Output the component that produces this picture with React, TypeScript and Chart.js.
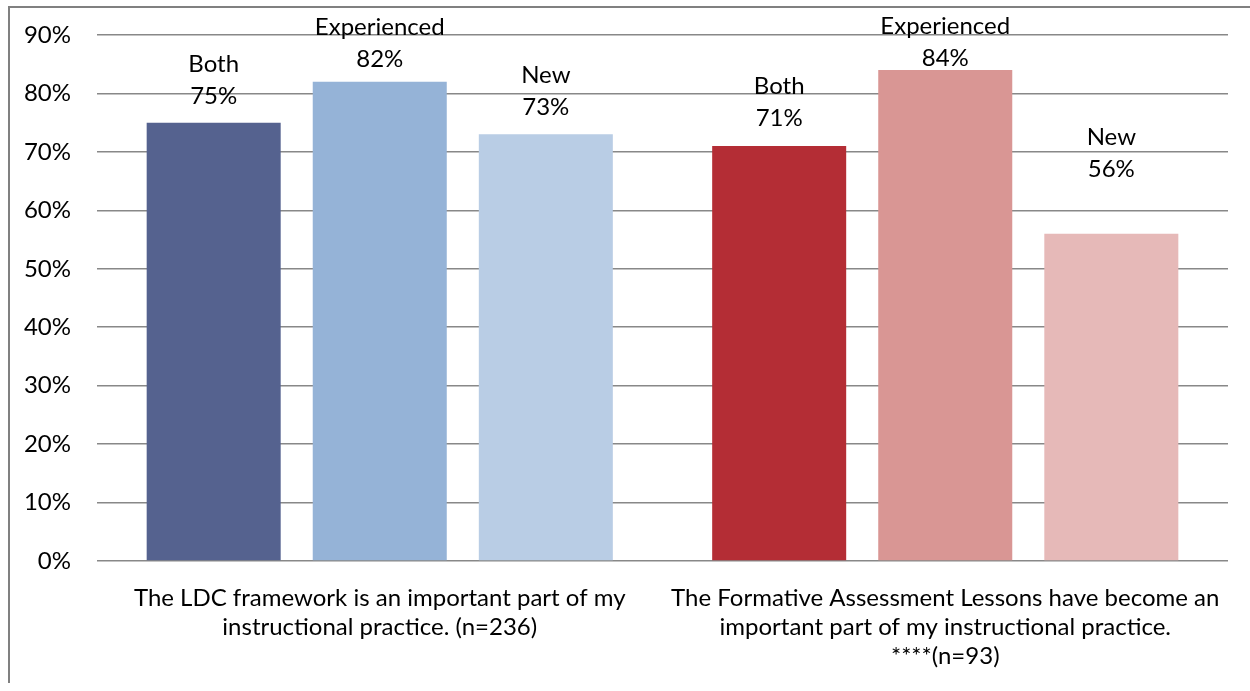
import React, { useEffect, useRef } from "react";
import { Chart, registerables } from "chart.js";

Chart.register(...registerables);

const categories: string[][] = [
  ["The LDC framework is an important part of my", "instructional practice. (n=236)"],
  ["The Formative Assessment Lessons have become an", "important part of my instructional practice.", "****(n=93)"],
];
const seriesNames = ["Both", "Experienced", "New"];
const bothValues = [75, 71];
const experiencedValues = [82, 84];
const newValues = [73, 56];
const yTicks = [0, 10, 20, 30, 40, 50, 60, 70, 80, 90];

// styling / label placement (kept apart from data)
const seriesColors = [
  ["#55628F", "#B42D35"],
  ["#95B3D7", "#D99694"],
  ["#B9CDE5", "#E6B9B8"],
];
const labelLift = [
  [26.5, 28],
  [22.5, 11.7],
  [27.3, 64],
];

const FONT = "Lato";

const labelPlugin = {
  id: "barLabels",
  afterDatasetsDraw(chart: any) {
    const ctx = chart.ctx;
    ctx.save();
    ctx.font = `24px ${FONT}`;
    ctx.fillStyle = "#000";
    ctx.textAlign = "center";
    ctx.textBaseline = "middle";
    chart.data.datasets.forEach((ds: any, di: number) => {
      const meta = chart.getDatasetMeta(di);
      meta.data.forEach((el: any, i: number) => {
        const v = ds.data[i];
        const yVal = el.y - labelLift[di][i];
        ctx.fillText(`${v}%`, el.x, yVal);
        ctx.fillText(ds.label, el.x, yVal - 32);
      });
    });
    ctx.restore();
  },
};

export default function App() {
  const ref = useRef<HTMLCanvasElement | null>(null);
  useEffect(() => {
    if (!ref.current) return;
    const valueSets = [bothValues, experiencedValues, newValues];
    const chart = new Chart(ref.current, {
      type: "bar",
      data: {
        labels: categories,
        datasets: seriesNames.map((name, i) => ({
          label: name,
          data: valueSets[i],
          backgroundColor: seriesColors[i],
          borderWidth: 0,
          categoryPercentage: 0.881,
          barPercentage: 0.807,
        })),
      },
      options: {
        responsive: false,
        animation: false,
        devicePixelRatio: 1,
        layout: { padding: { left: 0, right: 22, top: 27, bottom: 0 } },
        plugins: {
          legend: { display: false },
          tooltip: { enabled: false },
        },
        scales: {
          x: {
            grid: { display: false, drawTicks: false },
            border: { display: false },
            ticks: {
              color: "#000",
              font: { family: FONT, size: 24, lineHeight: 29 / 24 },
              padding: 22.5,
              maxRotation: 0,
              minRotation: 0,
              autoSkip: false,
            },
            afterFit(scale: any) {
              scale.height = 122;
              scale.paddingLeft = 0;
              scale.paddingRight = 0;
            },
          },
          y: {
            min: 0,
            max: 90,
            afterBuildTicks(scale: any) {
              scale.ticks = yTicks.map((v) => ({ value: v }));
            },
            grid: { color: "#888888", lineWidth: 1.5, drawTicks: false },
            border: { display: false },
            ticks: {
              color: "#000",
              font: { family: FONT, size: 24 },
              padding: 26,
              callback: (v: any) => `${v}%`,
            },
            afterFit(scale: any) {
              scale.width = 87;
              scale.paddingTop = 14;
              scale.paddingBottom = 14;
            },
          },
        },
      },
      plugins: [labelPlugin],
    });
    return () => chart.destroy();
  }, []);

  return (
    <div
      style={{
        position: "absolute",
        top: 6,
        left: 8,
        width: 1240,
        height: 675,
        borderTop: "2px solid #808080",
        borderLeft: "2px solid #808080",
        overflow: "hidden",
        background: "#fff",
      }}
    >
      <canvas ref={ref} width={1240} height={675} style={{ display: "block" }} />
    </div>
  );
}
